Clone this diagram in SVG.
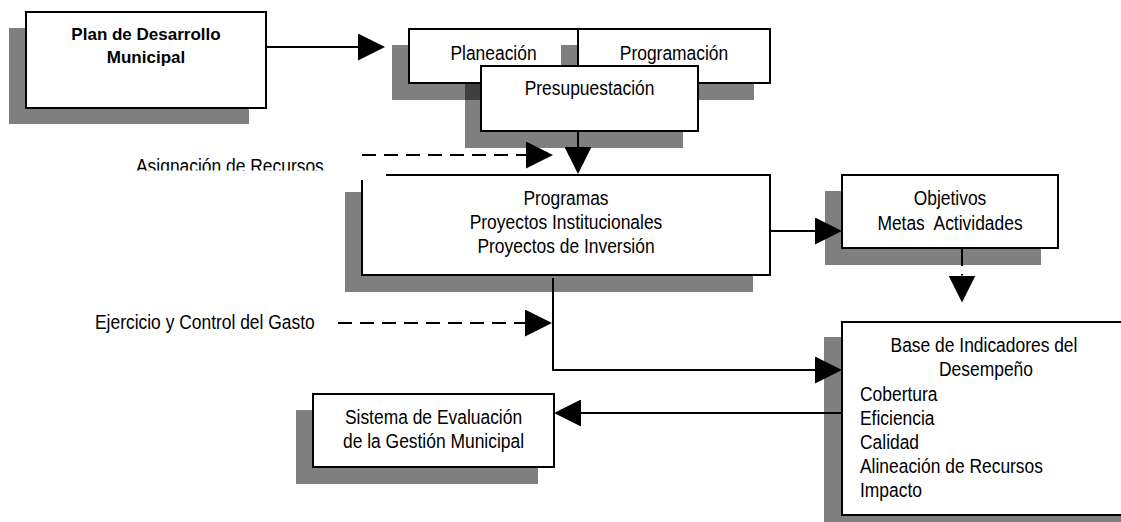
<svg xmlns="http://www.w3.org/2000/svg" width="1121" height="522" viewBox="0 0 1121 522">
<style>
.sh{fill:#000;fill-opacity:.5}
.bx{fill:#fff;stroke:#000;stroke-width:2}
.t{font-family:"Liberation Sans",Arial,sans-serif;font-size:21px;fill:#000}
.c{text-anchor:middle}
.b{font-family:"Liberation Sans",Arial,sans-serif;font-size:17px;font-weight:bold;text-anchor:middle;fill:#000}
.ln{fill:none;stroke:#000;stroke-width:2;marker-end:url(#ah)}
.nm{fill:none;stroke:#000;stroke-width:2}
.ds{stroke-dasharray:14 8}
</style>
<defs>
<marker id="ah" viewBox="0 0 27 27" refX="0" refY="13.5" markerWidth="27" markerHeight="27" markerUnits="userSpaceOnUse" orient="auto">
<path d="M0,0 L27,13.5 L0,27 Z" fill="#000"/>
</marker>
<clipPath id="clipA"><rect x="0" y="140" width="400" height="30.5"/></clipPath>
</defs>
<rect width="1121" height="522" fill="#fff"/>

<g id="plan">
<rect class="sh" x="9" y="28" width="240" height="96"/>
<rect class="bx" x="26" y="12" width="240" height="96"/>
<text class="b" x="146" y="40">Plan de Desarrollo</text>
<text class="b" x="146" y="63">Municipal</text>
</g>

<g id="planeacion">
<rect class="sh" x="392" y="45" width="169" height="55"/>
<rect class="bx" x="409" y="29" width="169" height="54"/>
<text class="t c" transform="translate(493.5,60) scale(0.83,1)">Planeación</text>
</g>

<g id="programacion">
<rect class="sh" x="561" y="45" width="193" height="55"/>
<rect class="bx" x="578" y="29" width="192" height="54"/>
<text class="t c" transform="translate(674,60) scale(0.83,1)">Programación</text>
</g>

<g id="presupuestacion">
<rect class="sh" x="465" y="82" width="218" height="66"/>
<rect class="bx" x="481" y="66" width="217" height="65"/>
<text class="t c" transform="translate(589.5,95) scale(0.83,1)">Presupuestación</text>
</g>

<g id="programas">
<rect class="sh" x="345" y="192" width="408" height="100"/>
<rect class="bx" x="362" y="175" width="408" height="100"/>
<text class="t c" transform="translate(566,205) scale(0.83,1)">Programas</text>
<text class="t c" transform="translate(566,229) scale(0.83,1)">Proyectos Institucionales</text>
<text class="t c" transform="translate(566,253) scale(0.83,1)">Proyectos de Inversión</text>
</g>

<g id="asignacion">
<rect x="120" y="148" width="266" height="32" fill="#fff"/>
<g clip-path="url(#clipA)">
<text class="t" transform="translate(136,173) scale(0.83,1)">Asignación de Recursos</text>
</g>
</g>

<g id="objetivos">
<rect class="sh" x="825" y="191" width="216" height="74"/>
<rect class="bx" x="842" y="175" width="216" height="73"/>
<text class="t c" transform="translate(950,205) scale(0.83,1)">Objetivos</text>
<text class="t c" xml:space="preserve" transform="translate(950,230) scale(0.83,1)">Metas  Actividades</text>
</g>

<g id="ejercicio">
<text class="t" transform="translate(95,329) scale(0.83,1)">Ejercicio y Control del Gasto</text>
</g>

<g id="base">
<rect class="sh" x="824" y="337" width="300" height="200"/>
<rect class="bx" x="842" y="322" width="290" height="193"/>
<text class="t c" transform="translate(984,352) scale(0.83,1)">Base de Indicadores del</text>
<text class="t c" transform="translate(986,376) scale(0.83,1)">Desempeño</text>
<text class="t" transform="translate(860,400.5) scale(0.83,1)">Cobertura</text>
<text class="t" transform="translate(860,425) scale(0.83,1)">Eficiencia</text>
<text class="t" transform="translate(860,449) scale(0.83,1)">Calidad</text>
<text class="t" transform="translate(860,473) scale(0.83,1)">Alineación de Recursos</text>
<text class="t" transform="translate(860,497) scale(0.83,1)">Impacto</text>
</g>

<g id="sistema">
<rect class="sh" x="296" y="410" width="242" height="74"/>
<rect class="bx" x="313" y="394" width="241" height="73"/>
<text class="t c" transform="translate(433.5,424) scale(0.83,1)">Sistema de Evaluación</text>
<text class="t c" transform="translate(433.5,448) scale(0.83,1)">de la Gestión Municipal</text>
</g>

<g id="connectors">
<path class="ln" d="M266,47 H358"/>
<path class="ln" d="M578,131 V147"/>
<path class="ln ds" d="M362,155 H526"/>
<path class="ln" d="M770,231 H815"/>
<path class="ln" d="M553,278 V370 H815"/>
<path class="ln ds" d="M338,323 H525"/>
<path class="ln" d="M842,413 H581"/>
<path class="nm" d="M962,248 V266"/>
<path class="ln" d="M962,274 V275.5"/>
</g>
</svg>
